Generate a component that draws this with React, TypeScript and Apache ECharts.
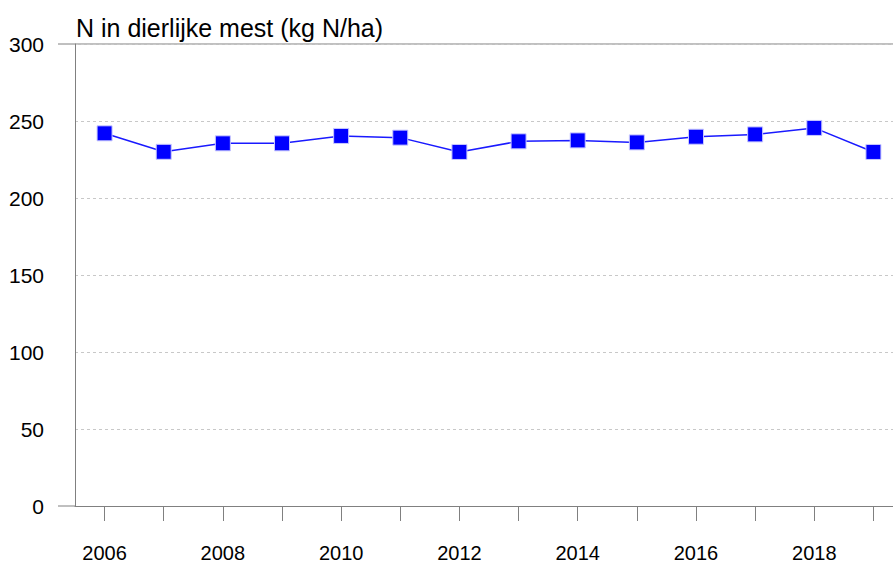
import React, { useEffect, useRef } from "react";
import * as echarts from "echarts";

const years = ["2006", "2007", "2008", "2009", "2010", "2011", "2012", "2013", "2014", "2015", "2016", "2017", "2018", "2019"];
const values = [242, 230, 235.5, 235.5, 240.3, 239.2, 229.9, 236.8, 237.4, 236.1, 239.8, 241.3, 245.5, 229.9];
const yTicks = { min: 0, max: 300, interval: 50 };
const title = "N in dierlijke mest (kg N/ha)";

export default function App() {
  const ref = useRef<HTMLDivElement>(null);
  useEffect(() => {
    if (!ref.current) return;
    const chart = echarts.init(ref.current, null, { renderer: "svg" });
    const font = "'Liberation Sans', Arial, sans-serif";
    chart.setOption({
      animation: false,
      backgroundColor: "#ffffff",
      textStyle: { fontFamily: font },
      title: {
        text: title,
        left: 71,
        top: 10,
        textStyle: { fontSize: 25, fontWeight: "normal", color: "#000", fontFamily: font },
      },
      grid: { left: 75, top: 44, bottom: 57, width: 828, containLabel: false, outerBoundsMode: "none" },
      xAxis: {
        type: "category",
        data: years,
        boundaryGap: true,
        axisLine: { show: true, lineStyle: { color: "#808080", width: 1 } },
        axisTick: { show: true, alignWithLabel: true, length: 15, interval: 0, lineStyle: { color: "#808080" } },
        axisLabel: { interval: 1, margin: 38, fontSize: 20, lineHeight: 18, color: "#000", fontFamily: font },
        splitLine: { show: false },
      },
      yAxis: {
        type: "value",
        min: yTicks.min,
        max: yTicks.max,
        interval: yTicks.interval,
        axisLine: { show: true, lineStyle: { color: "#808080", width: 1 } },
        axisTick: { show: false },
        axisLabel: { margin: 31, fontSize: 21, color: "#000", fontFamily: font },
        splitLine: { show: true, lineStyle: { color: "#c8c8c8", type: [3, 3], width: 1 } },
      },
      graphic: [
        { type: "line", shape: { x1: 58, y1: 44, x2: 893, y2: 44 }, style: { stroke: "#808080", lineWidth: 1 } },
        { type: "line", shape: { x1: 58, y1: 506, x2: 75, y2: 506 }, style: { stroke: "#808080", lineWidth: 1 } },
      ],
      series: [
        {
          type: "line",
          data: values,
          symbol: "rect",
          symbolSize: 15,
          lineStyle: { color: "#1a1aff", width: 1.5 },
          itemStyle: { color: "#0000ff", borderColor: "#c8c8ff", borderWidth: 1 },
        },
      ],
    });
    return () => chart.dispose();
  }, []);
  return <div ref={ref} style={{ width: 893, height: 563, position: "fixed", left: 0, top: 0 }} />;
}
